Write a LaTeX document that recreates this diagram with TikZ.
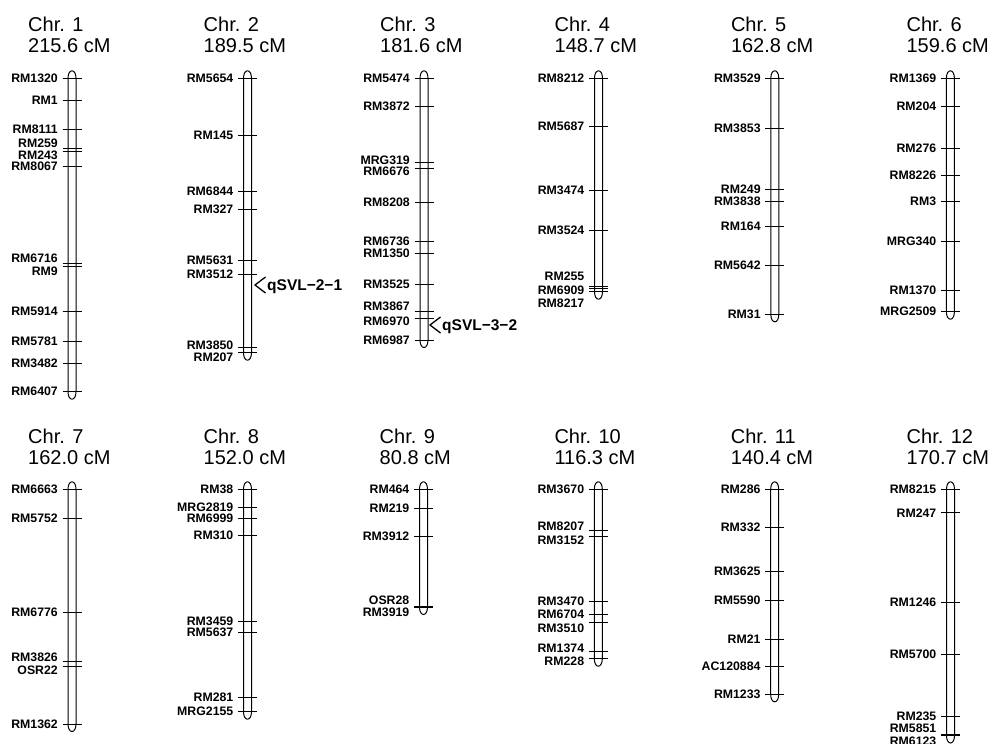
\documentclass[tikz,border=0pt]{standalone}
\usepackage{fontspec}
\setmainfont{Liberation Sans}
\usepackage{tikz}

\newcommand{\markfont}{\fontsize{12.3}{14}\selectfont\bfseries}
\newcommand{\titlefont}{\fontsize{20}{24}\selectfont}
\newcommand{\qtlfont}{\fontsize{15.5}{18}\selectfont\bfseries}
% bar with rounded ends: #1 centre x, #2 first marker, #3 last marker
\newcommand{\chrbar}[3]{%
  \draw[barline] (#1-4,#2) .. controls (#1-4,#2-10) and (#1+4,#2-10) .. (#1+4,#2)
    -- (#1+4,#3) .. controls (#1+4,#3+10) and (#1-4,#3+10) .. (#1-4,#3) -- cycle;}
% markers: tick y / label y / name
\newcommand{\markers}[1]{%
  \foreach \t/\l/\m in {#1}{%
    \draw[mtick] (\cx-9.5,\t) -- (\cx+9.5,\t);
    \node[marker] (m-\m) at (\cx-14,\l) {\m};}}

\begin{document}
\begin{tikzpicture}[x=1pt, y=-1pt,
    barline/.style={line width=1pt},
    mtick/.style={line width=1pt},
    qtlmark/.style={line width=1.3pt},
    marker/.style={anchor=east, inner sep=0pt, font=\markfont},
    chrtitle/.style={anchor=base west, inner sep=0pt, font=\titlefont},
    qtl/.style={anchor=west, inner sep=0pt, text depth=0pt, font=\qtlfont}]
  \useasboundingbox (0,0) rectangle (993,744);
  \clip (0,0) rectangle (993,744);

  % Chr. 1
  \def\cx{72}
  \node[chrtitle] (chr1) at (\cx-44,31.7) {Chr. 1};
  \node[chrtitle] (len1) at (\cx-44,52.7) {215.6 cM};
  \chrbar{\cx}{78.3}{391.7}
  \markers{78.3/78.3/RM1320, 100/100/RM1, 129.3/129.3/RM8111, 148.7/143.3/RM259,
    151.7/155/RM243, 166.7/166.7/RM8067, 263.3/258.3/RM6716, 266.7/271.7/RM9,
    311.7/311.7/RM5914, 341.7/341.7/RM5781, 363.3/363.3/RM3482, 391.7/391.7/RM6407}

  % Chr. 2
  \def\cx{247.5}
  \node[chrtitle] (chr2) at (\cx-44,31.7) {Chr. 2};
  \node[chrtitle] (len2) at (\cx-44,52.7) {189.5 cM};
  \chrbar{\cx}{78.3}{352.7}
  \markers{78.3/78.3/RM5654, 135.7/135.7/RM145, 191/191/RM6844, 209.3/209.3/RM327,
    260/260/RM5631, 274.3/274.3/RM3512, 347.7/345/RM3850, 352.7/357.3/RM207}
  \node[qtl] (qtl21) at (267,285) {qSVL−2−1};
  \draw[qtlmark] (qtl21.west) ++(-1.5,-8) -- ++(-10.5,8) -- ++(10.5,8);

  % Chr. 3
  \def\cx{424}
  \node[chrtitle] (chr3) at (\cx-44,31.7) {Chr. 3};
  \node[chrtitle] (len3) at (\cx-44,52.7) {181.6 cM};
  \chrbar{\cx}{78.3}{340}
  \markers{78.3/78.3/RM5474, 106.7/106.7/RM3872, 162.7/160/MRG319, 168.3/171.7/RM6676,
    202.3/202.3/RM8208, 241/241/RM6736, 253.3/253.3/RM1350, 284/284/RM3525,
    311/306/RM3867, 318.3/321.7/RM6970, 340/340/RM6987}
  \node[qtl] (qtl32) at (442,325) {qSVL−3−2};
  \draw[qtlmark] (qtl32.west) ++(-1.5,-8) -- ++(-10.5,8) -- ++(10.5,8);

  % Chr. 4
  \def\cx{598.5}
  \node[chrtitle] (chr4) at (\cx-44,31.7) {Chr. 4};
  \node[chrtitle] (len4) at (\cx-44,52.7) {148.7 cM};
  \chrbar{\cx}{78.3}{291.7}
  \markers{78.3/78.3/RM8212, 126.7/126.7/RM5687, 190.7/190.7/RM3474, 230.7/230.7/RM3524,
    286/276/RM255, 288.7/290/RM6909, 291.7/303.3/RM8217}

  % Chr. 5
  \def\cx{774.8}
  \node[chrtitle] (chr5) at (\cx-44,31.7) {Chr. 5};
  \node[chrtitle] (len5) at (\cx-44,52.7) {162.8 cM};
  \chrbar{\cx}{78.3}{314.3}
  \markers{78.3/78.3/RM3529, 128.3/128.3/RM3853, 189/189/RM249, 201.3/201.3/RM3838,
    226.7/226.7/RM164, 265/265/RM5642, 314.3/314.3/RM31}

  % Chr. 6
  \def\cx{950.4}
  \node[chrtitle] (chr6) at (\cx-44,31.7) {Chr. 6};
  \node[chrtitle] (len6) at (\cx-44,52.7) {159.6 cM};
  \chrbar{\cx}{78.3}{311.7}
  \markers{78.3/78.3/RM1369, 106/106/RM204, 148.3/148.3/RM276, 175.7/175.7/RM8226,
    201.3/201.3/RM3, 241.7/241.7/MRG340, 290/290/RM1370, 311.7/311.7/MRG2509}

  % Chr. 7
  \def\cx{72}
  \node[chrtitle] (chr7) at (\cx-44,443.2) {Chr. 7};
  \node[chrtitle] (len7) at (\cx-44,464.2) {162.0 cM};
  \chrbar{\cx}{489.3}{724}
  \markers{489.3/489.3/RM6663, 518.3/518.3/RM5752, 612.3/612.3/RM6776,
    661.7/657.3/RM3826, 666/670.7/OSR22, 724/724/RM1362}

  % Chr. 8
  \def\cx{247.5}
  \node[chrtitle] (chr8) at (\cx-44,443.2) {Chr. 8};
  \node[chrtitle] (len8) at (\cx-44,464.2) {152.0 cM};
  \chrbar{\cx}{489.3}{711.7}
  \markers{489.3/489.3/RM38, 507.3/507.3/MRG2819, 518.3/518.3/RM6999, 535/535/RM310,
    621.7/621.7/RM3459, 632.7/632.7/RM5637, 697.3/697.3/RM281, 711.7/711.7/MRG2155}

  % Chr. 9
  \def\cx{423.5}
  \node[chrtitle] (chr9) at (\cx-44,443.2) {Chr. 9};
  \node[chrtitle] (len9) at (\cx-44,464.2) {80.8 cM};
  \chrbar{\cx}{489.3}{607}
  \markers{489.3/489.3/RM464, 508.3/508.3/RM219, 536.7/536.7/RM3912,
    606/600/OSR28, 607/612.3/RM3919}

  % Chr. 10
  \def\cx{598.3}
  \node[chrtitle] (chr10) at (\cx-44,443.2) {Chr. 10};
  \node[chrtitle] (len10) at (\cx-44,464.2) {116.3 cM};
  \chrbar{\cx}{489.3}{658.7}
  \markers{489.3/489.3/RM3670, 530/526/RM8207, 536/540/RM3152, 601.7/601.7/RM3470,
    614.3/614.3/RM6704, 622.3/628.3/RM3510, 651.7/648.3/RM1374, 658.7/661.7/RM228}

  % Chr. 11
  \def\cx{774.7}
  \node[chrtitle] (chr11) at (\cx-44,443.2) {Chr. 11};
  \node[chrtitle] (len11) at (\cx-44,464.2) {140.4 cM};
  \chrbar{\cx}{489.3}{694.3}
  \markers{489.3/489.3/RM286, 527.3/527.3/RM332, 571/571/RM3625, 600/600/RM5590,
    639.3/639.3/RM21, 666.7/666.7/AC120884, 694.3/694.3/RM1233}

  % Chr. 12
  \def\cx{950.5}
  \node[chrtitle] (chr12) at (\cx-44,443.2) {Chr. 12};
  \node[chrtitle] (len12) at (\cx-44,464.2) {170.7 cM};
  \chrbar{\cx}{489.3}{735.5}
  \markers{489.3/489.3/RM8215, 512.7/512.7/RM247, 602.3/602.3/RM1246, 654.3/654.3/RM5700,
    716.7/716.7/RM235, 734.5/728.3/RM5851, 735.5/741.3/RM6123}
\end{tikzpicture}
\end{document}
